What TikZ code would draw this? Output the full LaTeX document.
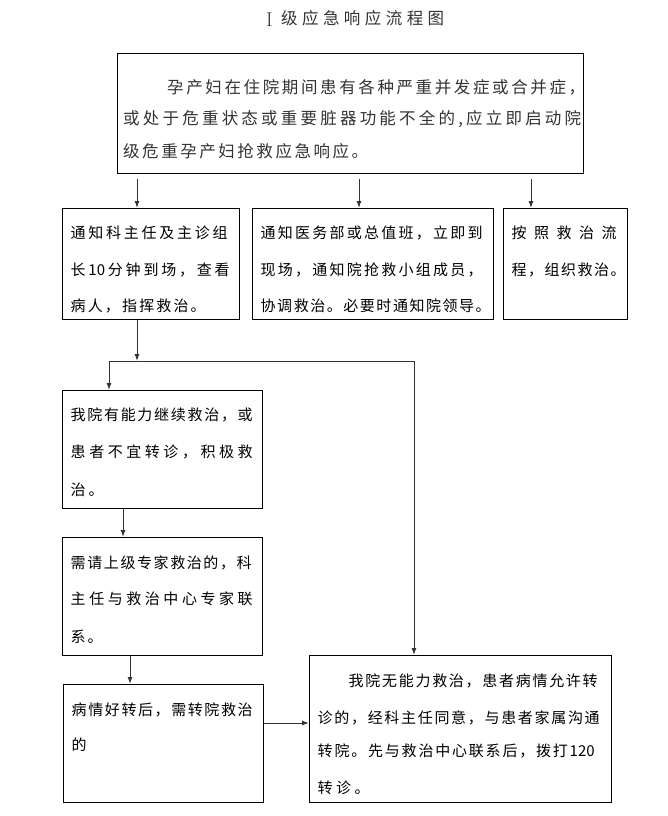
\documentclass[tikz,border=0pt]{standalone}
\usepackage{fontspec}
\newfontfamily\cjk{Noto Sans CJK SC}
\usetikzlibrary{arrows.meta}
\def\sstop{\sstop}
\def\sfirst#1{#1\srest}
\def\srest#1{\def\stmp{#1}\ifx\stmp\sstop\else\hfil#1\expandafter\srest\fi}
\newcommand\spread[2]{\hbox to #1pt{\sfirst#2\sstop}}
\begin{document}
\begin{tikzpicture}[x=1pt,y=-1pt,
  box/.style={draw=black,line width=1pt,inner sep=0pt,anchor=north west},
  txt/.style={inner sep=0pt,anchor=base west,font=\cjk\fontsize{15}{16}\selectfont},
  bigtxt/.style={inner sep=0pt,anchor=base west,text=black!80,font=\cjk\fontsize{16.5}{18}\selectfont},
  line/.style={draw=black!80,line width=1pt},
  arr/.style={line,-{Latex[length=7pt,width=5pt]}}]
\fill[white] (0,0) rectangle (668,816);
\useasboundingbox (0,0) rectangle (668,816);
% title
\node[inner sep=0pt,anchor=base west,text=black!80,font=\fontsize{20}{22}\selectfont] (tI) at (266,26.5) {I};
\node[bigtxt] (title) at (281,25) {\spread{163}{级应急响应流程图}};
% boxes
\node[box,minimum width=466,minimum height=120] (top) at (117,53) {};
\node[box,minimum width=177,minimum height=111] (b1) at (62,208) {};
\node[box,minimum width=241,minimum height=111] (b2) at (252,208) {};
\node[box,minimum width=124,minimum height=111] (b3) at (503,208) {};
\node[box,minimum width=200,minimum height=118] (b4) at (62,390) {};
\node[box,minimum width=200,minimum height=118] (b5) at (62,537) {};
\node[box,minimum width=200,minimum height=118] (b6) at (63,684) {};
\node[box,minimum width=302,minimum height=147] (b7) at (309,655) {};
% texts
\node[bigtxt] (t1) at (167,93) {\spread{418}{孕产妇在住院期间患有各种严重并发症或合并症，}};
\node[bigtxt] (t2) at (123,124) {\spread{458}{或处于危重状态或重要脏器功能不全的,应立即启动院}};
\node[bigtxt] (t3) at (123,157.2) {\spread{245}{级危重孕产妇抢救应急响应。}};
\node[txt] (b1a) at (70.5,238.4) {\spread{157}{通知科主任及主诊组}};
\node[txt] (b1b) at (70.5,275.7) {\spread{159}{长{10}分钟到场，查看}};
\node[txt] (b1c) at (70.5,311.4) {\spread{135}{病人，指挥救治。}};
\node[txt] (b2a) at (260.5,238.4) {\spread{222}{通知医务部或总值班，立即到}};
\node[txt] (b2b) at (260.5,275.7) {\spread{222}{现场，通知院抢救小组成员，}};
\node[txt] (b2c) at (260.5,311.4) {\spread{230}{协调救治。必要时通知院领导。}};
\node[txt] (b3a) at (511.5,238.4) {\spread{105}{按照救治流}};
\node[txt] (b3b) at (511.5,275.7) {\spread{114}{程，组织救治。}};
\node[txt] (b4a) at (70.5,420.7) {\spread{182}{我院有能力继续救治，或}};
\node[txt] (b4b) at (70.5,457.7) {\spread{182}{患者不宜转诊，积极救}};
\node[txt] (b4c) at (70.5,495.7) {\spread{33}{治。}};
\node[txt] (b5a) at (70.5,568.4) {\spread{181}{需请上级专家救治的，科}};
\node[txt] (b5b) at (70.5,604.7) {\spread{182}{主任与救治中心专家联}};
\node[txt] (b5c) at (70.5,642.4) {\spread{32}{系。}};
\node[txt] (b6a) at (71.5,715.7) {\spread{181}{病情好转后，需转院救治}};
\node[txt] (b6b) at (71.5,750.7) {\spread{15}{的}};
\node[txt] (b7a) at (348.5,686.7) {\spread{249}{我院无能力救治，患者病情允许转}};
\node[txt] (b7b) at (317.5,723.7) {\spread{282}{诊的，经科主任同意，与患者家属沟通}};
\node[txt] (b7c) at (317.5,756.7) {\spread{277}{转院。先与救治中心联系后，拨打{120}}};
\node[txt] (b7d) at (317.5,793.7) {\spread{52}{转诊。}};
% connector coordinates
\coordinate (xa) at (137,0);
\coordinate (xb) at (359,0);
\coordinate (xc) at (531,0);
\coordinate (J0) at (137,361);
\coordinate (J1) at (109,361);
\coordinate (J2) at (414,361);
\coordinate (xd) at (123,0);
\coordinate (xe) at (130,0);
\coordinate (ya) at (0,723);
% connectors
\draw[arr,shorten <=5pt] (top.south -| xa) -- (b1.north -| xa);
\draw[arr,shorten <=5pt] (top.south -| xb) -- (b2.north -| xb);
\draw[arr,shorten <=5pt] (top.south -| xc) -- (b3.north -| xc);
\draw[arr] (b1.south -| J0) -- (J0);
\draw[line] (J1) -- (J2);
\draw[arr] (J1) -- (b4.north -| J1);
\draw[arr] (J2) -- (b7.north -| J2);
\draw[arr] (b4.south -| xd) -- (b5.north -| xd);
\draw[arr] (b5.south -| xe) -- (b6.north -| xe);
\draw[arr] (b6.east |- ya) -- (b7.west |- ya);
\end{tikzpicture}
\end{document}
